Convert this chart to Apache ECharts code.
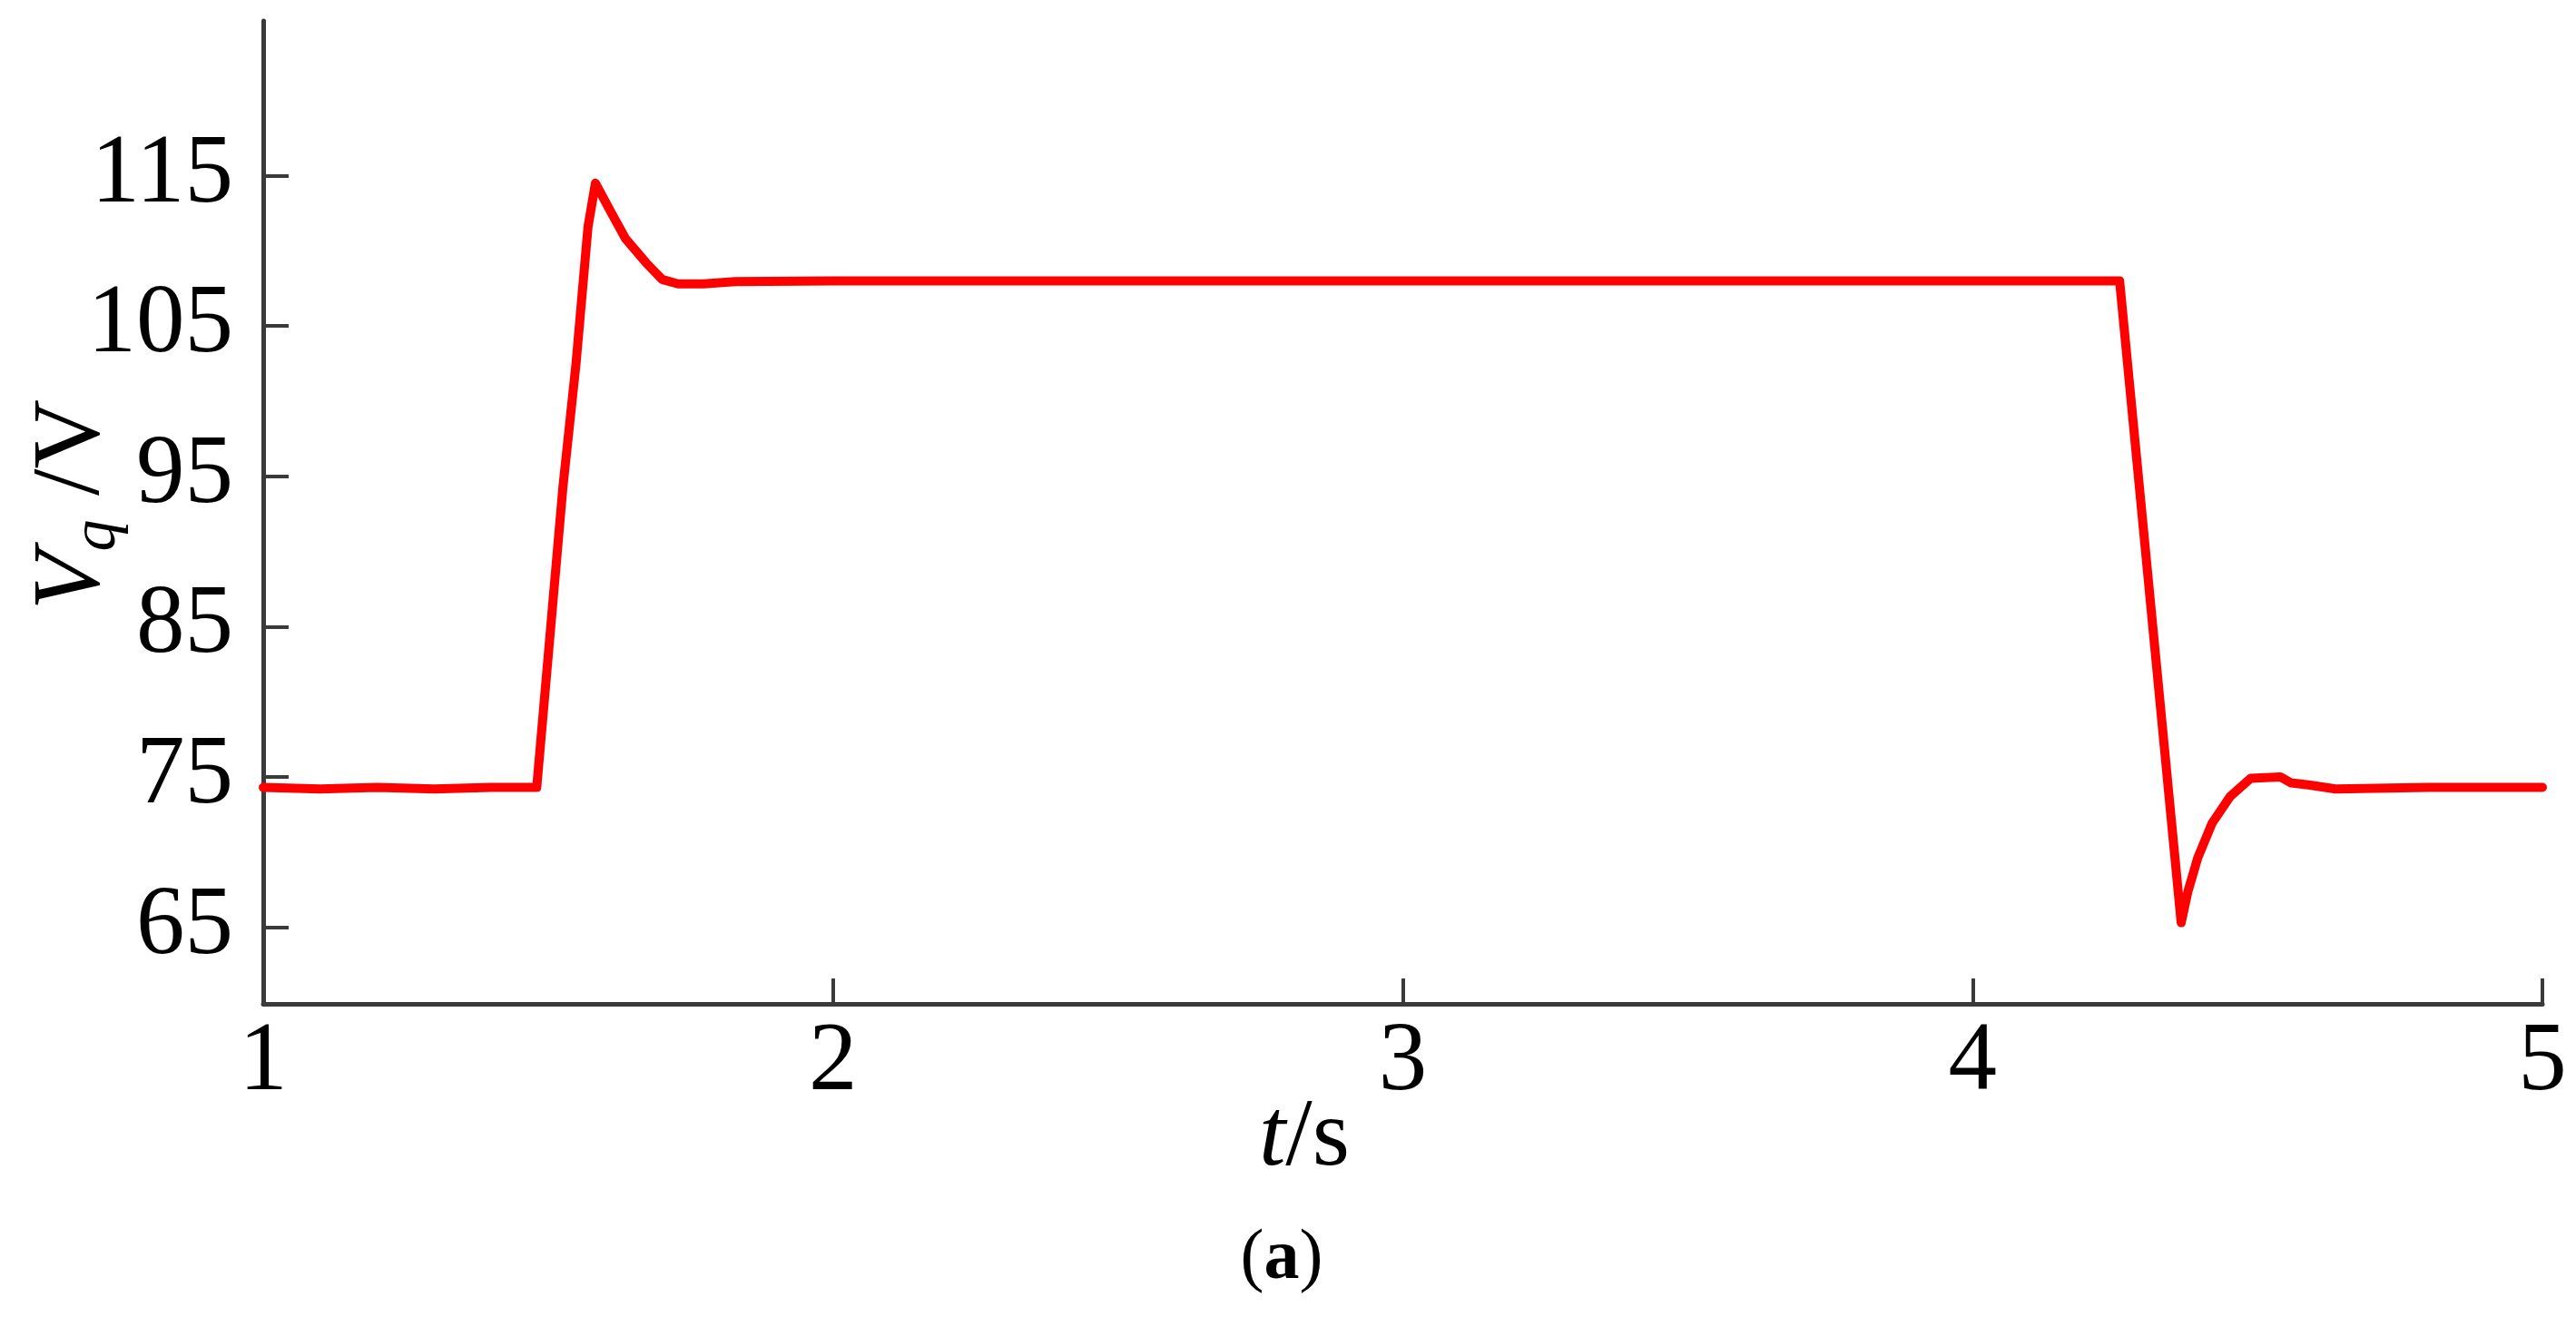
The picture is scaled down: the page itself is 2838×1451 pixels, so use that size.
<!DOCTYPE html>
<html>
<head>
<meta charset="utf-8">
<title>Vq step response</title>
<script src="https://cdn.jsdelivr.net/npm/echarts@6/dist/echarts.min.js"></script>
<style>
  html, body { margin: 0; padding: 0; background: #fff; }
  #chart { width: 2838px; height: 1451px; }
</style>
</head>
<body>
<div id="chart"></div>
<script>
// time (s) and Vq (V)
const timeS = [1.00, 1.10, 1.20, 1.30, 1.40, 1.480, 1.526, 1.549, 1.570, 1.583,
               1.610, 1.636, 1.672, 1.700, 1.728, 1.773, 1.828, 2.00, 2.50, 3.00,
               3.50, 4.00, 4.258, 4.366, 4.378, 4.395, 4.420, 4.452, 4.488, 4.540,
               4.559, 4.592, 4.637, 4.80, 5.00];
const vq    = [74.3, 74.2, 74.3, 74.2, 74.3, 74.3, 94.3, 102.5, 111.6, 114.5,
               112.6, 110.8, 109.2, 108.1, 107.8, 107.8, 107.95, 108.0, 108.0, 108.0,
               108.0, 108.0, 108.0, 65.3, 67.4, 69.6, 71.9, 73.7, 74.9, 75.0,
               74.6, 74.45, 74.2, 74.3, 74.3];
const yTicks = [65, 75, 85, 95, 105, 115];
const xTicks = [1, 2, 3, 4, 5];

const serif = 'Liberation Serif';
const axisColor = '#3a3a3a';

var myChart = echarts.init(document.getElementById('chart'));

var option = {
    animation: false,
    backgroundColor: '#fff',
    grid: { left: 290, right: 37, top: 23, bottom: 345 },
    xAxis: {
        type: 'value',
        min: xTicks[0],
        max: xTicks[xTicks.length - 1],
        interval: 1,
        axisLine: { onZero: false, lineStyle: { color: axisColor, width: 5 } },
        axisTick: { inside: true, length: 28, lineStyle: { color: axisColor, width: 4 } },
        axisLabel: { margin: 12, color: '#000', fontFamily: serif, fontSize: 107 },
        splitLine: { show: false }
    },
    yAxis: {
        type: 'value',
        min: 59.9,
        max: 125.3,
        axisLine: { show: true, onZero: false, lineStyle: { color: axisColor, width: 5 } },
        axisTick: { show: true, inside: true, length: 28, customValues: yTicks,
                    lineStyle: { color: axisColor, width: 4 } },
        axisLabel: { margin: 33, color: '#000', fontFamily: serif, fontSize: 107,
                     customValues: yTicks },
        splitLine: { show: false }
    },
    graphic: [
        {   // y title  V_q /V
            type: 'text',
            x: 80, y: 556,
            rotation: Math.PI / 2,
            style: {
                text: '{i|V}{s|q}{n| /V}',
                textAlign: 'center',
                textVerticalAlign: 'middle',
                fill: '#000',
                rich: {
                    i: { fontFamily: serif, fontSize: 106, fontStyle: 'italic' },
                    s: { fontFamily: serif, fontSize: 70, fontStyle: 'italic', padding: [56, 0, 0, 0] },
                    n: { fontFamily: serif, fontSize: 106 }
                }
            }
        },
        {   // x title  t/s
            type: 'text',
            x: 1437, y: 1255,
            style: {
                text: '{i|t}{n|/s}',
                textAlign: 'center',
                textVerticalAlign: 'middle',
                fill: '#000',
                rich: {
                    i: { fontFamily: serif, fontSize: 106, fontStyle: 'italic' },
                    n: { fontFamily: serif, fontSize: 106 }
                }
            }
        },
        {   // panel tag (a)
            type: 'text',
            x: 1412, y: 1388,
            style: {
                text: '{n|(}{b|a}{n|)}',
                textAlign: 'center',
                textVerticalAlign: 'middle',
                fill: '#000',
                rich: {
                    n: { fontFamily: serif, fontSize: 78 },
                    b: { fontFamily: serif, fontSize: 78, fontWeight: 'bold' }
                }
            }
        }
    ],
    series: [
        {
            name: 'Vq',
            type: 'line',
            showSymbol: false,
            data: timeS.map(function (t, i) { return [t, vq[i]]; }),
            lineStyle: { color: '#ff0000', width: 10, cap: 'round', join: 'round' },
            itemStyle: { color: '#ff0000' },
            z: 3
        }
    ]
};
myChart.setOption(option);
</script>
</body>
</html>
